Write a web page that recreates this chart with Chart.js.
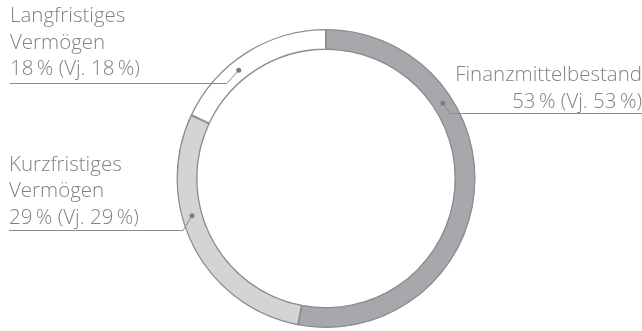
<!DOCTYPE html>
<html>
<head>
<meta charset="utf-8">
<script src="https://cdn.jsdelivr.net/npm/chart.js@4"></script>
<style>
  html, body { margin: 0; padding: 0; background: #fff; }
  #wrap { width: 642px; height: 331px; position: relative; }
</style>
</head>
<body>
<div id="wrap"><canvas id="myChart"></canvas></div>
<script>
// data
const categories = [['Finanzmittelbestand'], ['Kurzfristiges', 'Vermögen'], ['Langfristiges', 'Vermögen']];
const shares = [53, 29, 18];
const priorYear = [53, 29, 18];
const segColors = ['#a7a8ab', '#d3d4d6', '#ffffff'];

// where each callout sits: fraction along the arc, elbow offset, text side
const callouts = [
    { frac: 0.30, elbowDx: 7, elbowDy: 10, side: 'right', lineEnd: 642, gap: 6 },
    { frac: 0.61, elbowDx: -9, elbowDy: 14, side: 'left', lineEnd: 9, gap: 7 },
    { frac: 0.40, elbowDx: -12, elbowDy: 12.5, side: 'left', lineEnd: 10, gap: 8.5 }
];

const textColor = '#818285';
const lineColor = '#8a8b8e';

const calloutPlugin = {
    id: 'callouts',
    afterDraw(chart) {
        const ctx = chart.ctx;
        const arcs = chart.getDatasetMeta(0).data;
        ctx.save();
        ctx.font = '300 20.5px "Open Sans"';
        ctx.fillStyle = textColor;
        ctx.strokeStyle = lineColor;
        ctx.lineWidth = 1;
        arcs.forEach((arc, i) => {
            const c = callouts[i];
            const p = arc.getProps(['x', 'y', 'startAngle', 'endAngle', 'innerRadius', 'outerRadius'], true);
            const ang = p.startAngle + c.frac * (p.endAngle - p.startAngle);
            const r = (p.innerRadius + p.outerRadius) / 2;
            const dx = p.x + Math.cos(ang) * r;
            const dy = p.y + Math.sin(ang) * r;
            const ex = dx + c.elbowDx;
            const ey = Math.round(dy + c.elbowDy) + 0.5;

            ctx.beginPath();
            ctx.moveTo(dx, dy);
            ctx.lineTo(ex, ey);
            ctx.lineTo(c.lineEnd, ey);
            ctx.stroke();

            ctx.beginPath();
            ctx.arc(dx, dy, 2.5, 0, Math.PI * 2);
            ctx.fillStyle = '#7d7e81';
            ctx.fill();
            ctx.fillStyle = textColor;

            const lines = categories[i].concat([shares[i] + '\u2009% (Vj.\u00a0' + priorYear[i] + '\u2009%)']);
            ctx.textAlign = c.side === 'right' ? 'right' : 'left';
            ctx.textBaseline = 'alphabetic';
            const lh = 26.5;
            const base = ey - c.gap;
            lines.forEach((t, k) => {
                ctx.fillText(t, c.lineEnd, base - (lines.length - 1 - k) * lh);
            });
        });
        ctx.restore();
    }
};

const ctx = document.getElementById('myChart').getContext('2d');
const myChart = new Chart(ctx, {
    type: 'doughnut',
    data: {
        labels: categories.map(l => l.join(' ')),
        datasets: [{
            data: shares,
            backgroundColor: segColors,
            borderColor: '#8c8d90',
            borderWidth: 1,
            borderAlign: 'inner'
        }]
    },
    options: {
        animation: false,
        responsive: true,
        maintainAspectRatio: false,
        cutout: '86%',
        layout: {
            padding: { left: 10, right: 0, top: 29, bottom: 3 }
        },
        plugins: {
            legend: { display: false },
            tooltip: { enabled: false }
        }
    },
    plugins: [calloutPlugin]
});
</script>
</body>
</html>
